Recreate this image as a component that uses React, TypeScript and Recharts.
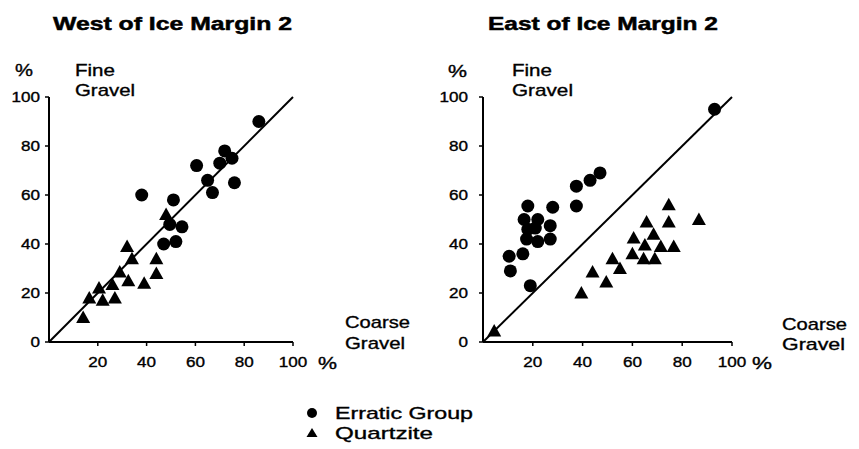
import { ScatterChart, Scatter, XAxis, YAxis, ReferenceLine } from "recharts";

const xTicks = [20, 40, 60, 80, 100];
const yTicks = [0, 20, 40, 60, 80, 100];

// West of Ice Margin 2
const westErratic = [
  { x: 86, y: 90 }, { x: 72, y: 78 }, { x: 60.5, y: 72 }, { x: 70, y: 73 },
  { x: 75, y: 75 }, { x: 65, y: 66 }, { x: 67, y: 61 }, { x: 76, y: 65 },
  { x: 38, y: 60 }, { x: 51, y: 58 }, { x: 54.5, y: 47 }, { x: 49.5, y: 48 },
  { x: 47, y: 40 }, { x: 52, y: 41 },
];
const westQuartzite = [
  { x: 14, y: 10 }, { x: 16.5, y: 18 }, { x: 20.5, y: 22 }, { x: 22, y: 17 },
  { x: 27, y: 18 }, { x: 26, y: 23.5 }, { x: 29, y: 28.6 }, { x: 32, y: 39 },
  { x: 34, y: 34 }, { x: 32.5, y: 25 }, { x: 39, y: 24 }, { x: 44, y: 34 },
  { x: 44, y: 28 }, { x: 48, y: 52 },
];

// East of Ice Margin 2
const eastErratic = [
  { x: 93, y: 95 }, { x: 47, y: 69 }, { x: 43, y: 66 }, { x: 37.5, y: 63.6 },
  { x: 37.5, y: 55.5 }, { x: 28, y: 55 }, { x: 18, y: 55.5 }, { x: 16.5, y: 50 },
  { x: 22, y: 50 }, { x: 27, y: 47.5 }, { x: 21, y: 46.5 }, { x: 17.5, y: 42 },
  { x: 22, y: 41 }, { x: 27, y: 42 }, { x: 10.5, y: 35 }, { x: 16, y: 36 },
  { x: 11, y: 29 }, { x: 19, y: 23 }, { x: 18, y: 46 },
];
const eastQuartzite = [
  { x: 4.5, y: 4.5 }, { x: 39.5, y: 20 }, { x: 44, y: 28.6 }, { x: 49.5, y: 24.5 },
  { x: 52, y: 34 }, { x: 55, y: 30 }, { x: 60.5, y: 42.5 }, { x: 60, y: 36 },
  { x: 65, y: 39.6 }, { x: 65.7, y: 49 }, { x: 68.5, y: 44 }, { x: 64.5, y: 34 },
  { x: 69, y: 34 }, { x: 71.4, y: 39 }, { x: 74.6, y: 56 }, { x: 74.6, y: 49 },
  { x: 76.6, y: 39 }, { x: 86.7, y: 50 },
];

const FONT = "'Liberation Sans', Arial, sans-serif";

const Dot = (p: any) => <circle cx={p.cx} cy={p.cy} r={6.5} fill="#000" />;
const Tri = (p: any) => (
  <polygon
    points={`${p.cx},${p.cy - 7} ${p.cx - 7},${p.cy + 5.5} ${p.cx + 7},${p.cy + 5.5}`}
    fill="#000"
  />
);

function Tick(props: any) {
  const { x, y, payload, textAnchor, vertical } = props;
  const label = String(payload.value);
  return (
    <text
      x={x}
      y={y}
      dy={vertical ? "0.355em" : "0.71em"}
      textAnchor={textAnchor}
      fontFamily={FONT}
      fontSize={14}
      fill="#000"
      stroke="#000"
      strokeWidth={0.35}
      textLength={label.length * 9.5}
      lengthAdjust="spacingAndGlyphs"
    >
      {label}
    </text>
  );
}

function Panel({ erratic, quartzite, left, right, yMargin }: any) {
  return (
    <ScatterChart
      width={430}
      height={449}
      margin={{ top: 97, right, bottom: 77, left }}
    >
      <XAxis
        type="number"
        dataKey="x"
        domain={[0, 100]}
        ticks={xTicks}
        height={30}
        axisLine={{ stroke: "#000", strokeWidth: 2 }}
        tickLine={{ stroke: "#000", strokeWidth: 1.5 }}
        tickSize={4}
        tickMargin={11}
        tick={<Tick />}
        interval={0}
      />
      <YAxis
        type="number"
        dataKey="y"
        domain={[0, 100]}
        ticks={yTicks}
        width={40}
        axisLine={{ stroke: "#000", strokeWidth: 2 }}
        tickLine={{ stroke: "#000", strokeWidth: 1.5 }}
        tickSize={4}
        tickMargin={yMargin}
        tick={<Tick vertical />}
        interval={0}
      />
      <ReferenceLine
        segment={[{ x: 0, y: 0 }, { x: 100, y: 100 }]}
        stroke="#000"
        strokeWidth={2}
        ifOverflow="visible"
      />
      <Scatter data={erratic} shape={Dot} isAnimationActive={false} />
      <Scatter data={quartzite} shape={Tri} isAnimationActive={false} />
    </ScatterChart>
  );
}

function T({ x, y, w, size = 17, bold = false, children }: any) {
  return (
    <text
      x={x}
      y={y}
      fontFamily={FONT}
      fontSize={size}
      fontWeight={bold ? "bold" : "normal"}
      fill="#000"
      stroke="#000"
      strokeWidth={bold ? 0.5 : 0.35}
      textLength={w}
      lengthAdjust="spacingAndGlyphs"
    >
      {children}
    </text>
  );
}

export default function App() {
  return (
    <div style={{ position: "absolute", left: 0, top: 0, width: 859, height: 449, background: "#fff" }}>
      <div style={{ position: "absolute", left: 0, top: 0 }}>
        <Panel erratic={westErratic} quartzite={westQuartzite} left={9} right={137} yMargin={5} />
      </div>
      <div style={{ position: "absolute", left: 430, top: 0 }}>
        <Panel erratic={eastErratic} quartzite={eastQuartzite} left={13} right={128} yMargin={11} />
      </div>
      <svg
        width={859}
        height={449}
        style={{ position: "absolute", left: 0, top: 0, pointerEvents: "none" }}
      >
        <T x={53} y={30} w={239} size={19} bold>West of Ice Margin 2</T>
        <T x={488} y={30} w={230} size={19} bold>East of Ice Margin 2</T>

        <T x={15} y={76} w={18}>%</T>
        <T x={75} y={76} w={40}>Fine</T>
        <T x={75} y={96} w={60}>Gravel</T>
        <T x={448} y={77} w={19}>%</T>
        <T x={512} y={76} w={40}>Fine</T>
        <T x={512} y={96} w={61}>Gravel</T>

        <T x={345} y={328} w={65}>Coarse</T>
        <T x={345} y={349} w={60}>Gravel</T>
        <T x={782} y={330} w={65}>Coarse</T>
        <T x={782} y={350} w={63}>Gravel</T>

        <T x={318} y={369} w={19}>%</T>
        <T x={752} y={369} w={20}>%</T>

        <circle cx={312} cy={413} r={5} fill="#000" />
        <T x={335} y={419} w={138}>Erratic Group</T>
        <polygon points="312,428 306.5,437 317.5,437" fill="#000" />
        <T x={335} y={439} w={98}>Quartzite</T>
      </svg>
    </div>
  );
}
